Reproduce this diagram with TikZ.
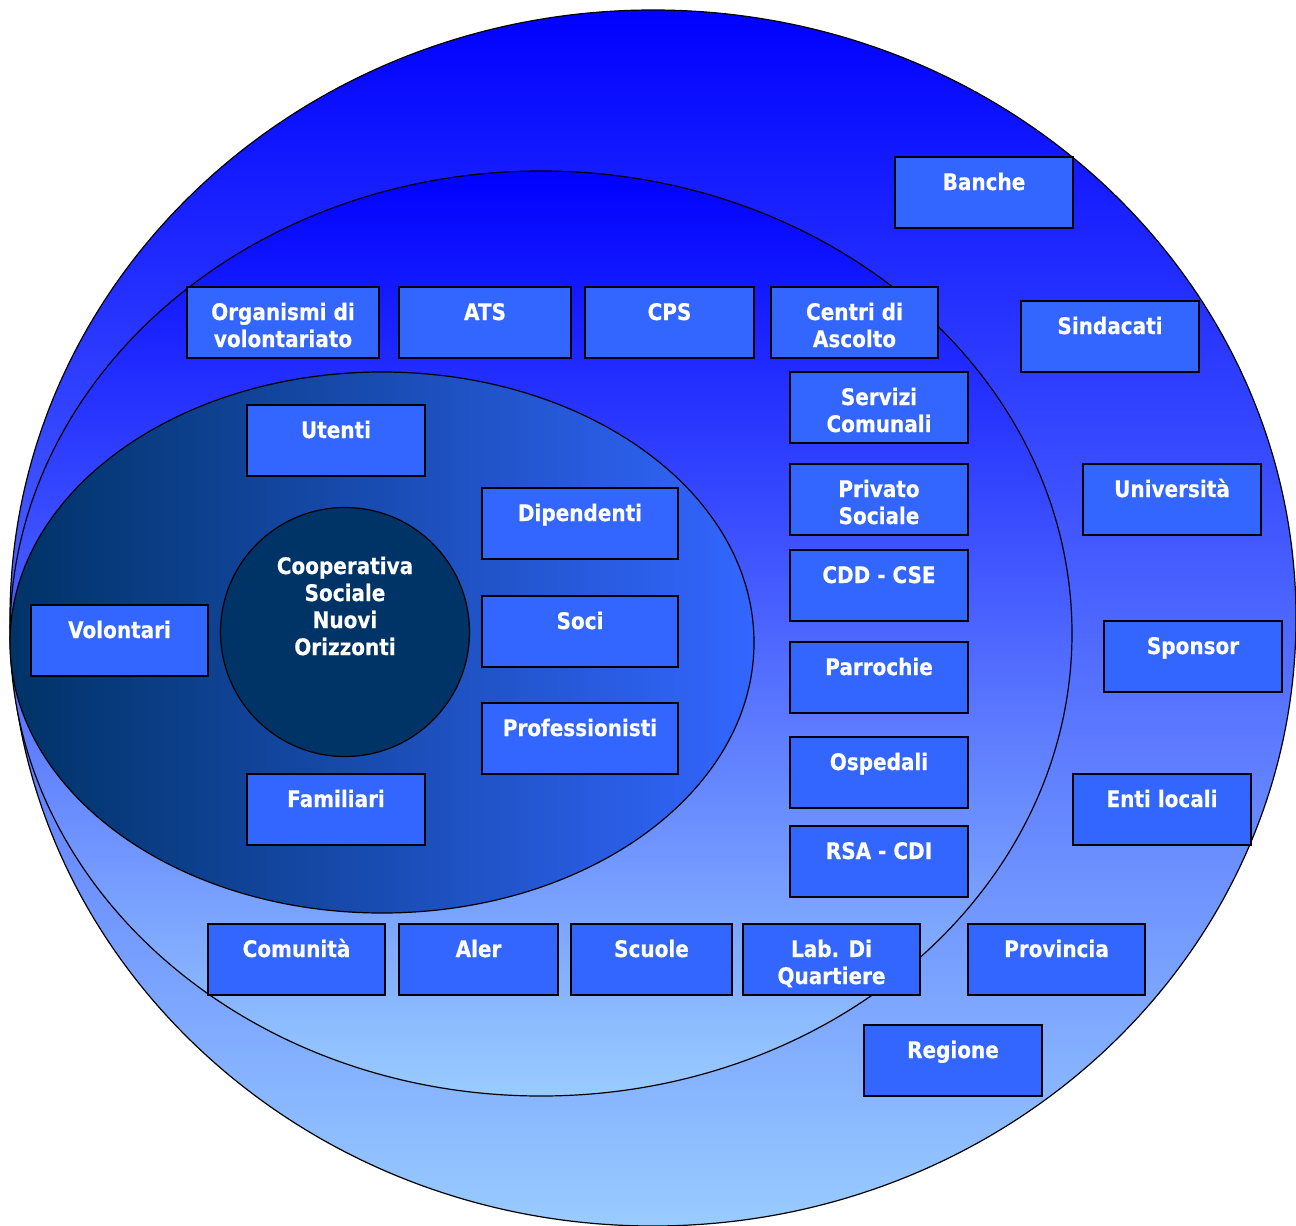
\documentclass[tikz,border=0pt]{standalone}
\usepackage{fontspec}
\setmainfont{DejaVu Sans}
\newfontfamily\lblfont{DejaVu Sans Bold}[FakeBold=0.5]
\definecolor{boxblue}{HTML}{3366FF}
\definecolor{topblue}{HTML}{0000FF}
\definecolor{lightblue}{HTML}{99CCFF}
\definecolor{navy}{HTML}{003366}
\newcommand\lbltext[1]{\scalebox{1}[1.14]{\begin{tabular}[t]{@{}c@{}}#1\end{tabular}}}
\newcommand\mybox[6]{%
  \node[bx, minimum width={(#4)-(#2)}, minimum height={(#5)-(#3)}] (#1) at ({((#2)+(#4))/2},{((#3)+(#5))/2}) {};
  \node[lbl] (#1t) at ({((#2)+(#4))/2},{(#3)+33}) {\lbltext{#6}};
}
\tikzset{
  bx/.style={rectangle, draw=black, line width=1.5pt, fill=boxblue, inner sep=0pt},
  lbl/.style={text=white, font=\lblfont\fontsize{20}{23.7}\selectfont, inner sep=0pt, anchor=base},
  ring/.style={draw=black, line width=1.2pt},
}
\begin{document}
\begin{tikzpicture}[x=1pt,y=-1pt]
\useasboundingbox (0,0) rectangle (1296,1226);
% outer
\shadedraw[ring, top color=topblue, bottom color=lightblue] (653,618) ellipse [x radius=643pt, y radius=608pt];
% middle
\shadedraw[ring, top color=topblue, bottom color=lightblue] (541,633.5) ellipse [x radius=531pt, y radius=462.5pt];
% inner
\shadedraw[ring, left color=navy, right color=boxblue] (382,642.5) ellipse [x radius=372pt, y radius=270.5pt];
% centre
\node[circle, draw=black, line width=1.2pt, fill=navy, minimum size=249pt, inner sep=0pt] (coop) at (345,632) {};
\node[lbl] (coopt) at (345,574) {\lbltext{Cooperativa\\Sociale\\Nuovi\\Orizzonti}};
% outer ring boxes
\mybox{banche}{895}{157}{1073}{228}{Banche}
\mybox{sindacati}{1021}{301}{1199}{372}{Sindacati}
\mybox{univ}{1083}{464}{1261}{535}{Università}
\mybox{sponsor}{1104}{621}{1282}{692}{Sponsor}
\mybox{enti}{1073}{774}{1251}{845}{Enti locali}
\mybox{provincia}{968}{924}{1145}{995}{Provincia}
\mybox{regione}{864}{1025}{1042}{1096}{Regione}
% middle ring boxes
\mybox{organismi}{187}{287}{379}{358}{Organismi di\\volontariato}
\mybox{ats}{399}{287}{571}{358}{ATS}
\mybox{cps}{585}{287}{754}{358}{CPS}
\mybox{centri}{771}{287}{938}{358}{Centri di\\Ascolto}
\mybox{servizi}{790}{372}{968}{443}{Servizi\\Comunali}
\mybox{privato}{790}{464}{968}{535}{Privato\\Sociale}
\mybox{cdd}{790}{550}{968}{621}{CDD - CSE}
\mybox{parrochie}{790}{642}{968}{713}{Parrochie}
\mybox{ospedali}{790}{737}{968}{808}{Ospedali}
\mybox{rsa}{790}{826}{968}{897}{RSA - CDI}
\mybox{comunita}{208}{924}{385}{995}{Comunità}
\mybox{aler}{399}{924}{558}{995}{Aler}
\mybox{scuole}{571}{924}{732}{995}{Scuole}
\mybox{lab}{743}{924}{920}{995}{Lab. Di\\Quartiere}
% inner ring boxes
\mybox{utenti}{247}{405}{425}{476}{Utenti}
\mybox{dipendenti}{482}{488}{678}{559}{Dipendenti}
\mybox{soci}{482}{596}{678}{667}{Soci}
\mybox{prof}{482}{703}{678}{774}{Professionisti}
\mybox{familiari}{247}{774}{425}{845}{Familiari}
\mybox{volontari}{31}{605}{208}{676}{Volontari}
\end{tikzpicture}
\end{document}
